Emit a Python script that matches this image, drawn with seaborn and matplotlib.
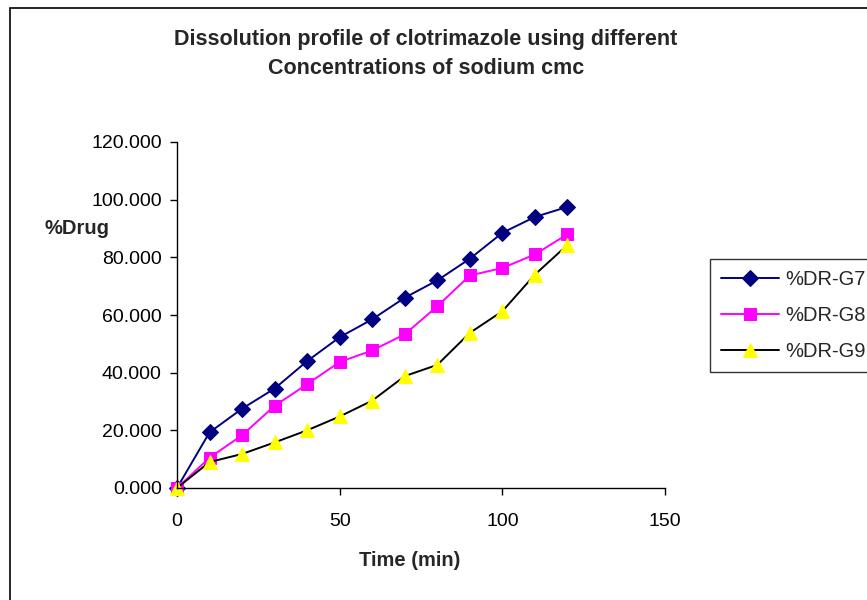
import matplotlib
matplotlib.use("Agg")
import matplotlib.pyplot as plt
import seaborn as sns
import pandas as pd
from matplotlib.patches import Rectangle
from matplotlib.ticker import FormatStrFormatter

time_min = [0, 10, 20, 30, 40, 50, 60, 70, 80, 90, 100, 110, 120]
dr_g7 = [0, 19.3, 27.5, 34.5, 44.0, 52.3, 58.5, 66.0, 72.0, 79.5, 88.5, 94.0, 97.5]
dr_g8 = [0, 10.5, 18.3, 28.5, 36.0, 43.7, 47.7, 53.3, 63.0, 73.7, 76.3, 81.0, 88.0]
dr_g9 = [0, 9.0, 11.8, 15.8, 20.0, 24.8, 30.3, 38.8, 42.7, 53.8, 61.3, 74.0, 84.3]
series_names = ["%DR-G7", "%DR-G8", "%DR-G9"]

sns.set_theme(style="white")
plt.rcParams['font.family'] = ['Liberation Sans', 'DejaVu Sans']

fig = plt.figure(figsize=(8.67, 6.0), dpi=100)
ax = fig.add_axes([177/867, 1-488/600, (665-177)/867, (488-142)/600])

styles = [
    dict(color="#000080", marker="D", mfc="#000080", mec="#000080", ms=8),
    dict(color="#FF00FF", marker="s", mfc="#FF00FF", mec="#FF00FF", ms=8.5),
    dict(color="#000000", marker="^", mfc="#FFFF00", mec="#FFFF00", ms=10),
]
handles = []
for name, vals, st in zip(series_names, [dr_g7, dr_g8, dr_g9], styles):
    df = pd.DataFrame({"t": time_min, "v": vals})
    sns.lineplot(data=df, x="t", y="v", ax=ax, color=st["color"], marker=st["marker"],
                 markerfacecolor=st["mfc"], markeredgecolor=st["mec"], markersize=st["ms"],
                 linewidth=1.4, clip_on=False, label=name, legend=False)
    handles.append(ax.lines[-1])

ax.set_xlim(0, 150)
ax.set_ylim(0, 120)
ax.set_xticks([0, 50, 100, 150])
ax.set_yticks([0, 20, 40, 60, 80, 100, 120])
ax.yaxis.set_major_formatter(FormatStrFormatter('%.3f'))
for s in ["top", "right"]:
    ax.spines[s].set_visible(False)
for s in ["left", "bottom"]:
    ax.spines[s].set_color("black")
    ax.spines[s].set_linewidth(1.0)
ax.tick_params(axis="both", direction="out", length=5, width=1, color="black",
               labelsize=14, labelcolor="black", bottom=True, left=True)
ax.tick_params(axis="y", pad=6)
ax.tick_params(axis="x", pad=13)
ax.set_xlabel("")
ax.set_ylabel("")

fig.text(110/867, 1-229/600, "%Drug", ha="right", va="center", fontsize=14.5, fontweight="bold")
fig.text(410/867, 1-560/600, "Time (min)", ha="center", va="center", fontsize=14.5, fontweight="bold")
fig.text(426/867, 1-39/600, "Dissolution profile of clotrimazole using different",
         ha="center", va="center", fontsize=15.5, fontweight="bold")
fig.text(426/867, 1-68/600, "Concentrations of sodium cmc",
         ha="center", va="center", fontsize=15.5, fontweight="bold")

fig.patches.append(Rectangle((10/867, -0.01), 1.0, 1-8/600+0.01, transform=fig.transFigure,
                             fill=False, edgecolor="black", linewidth=1.2))

leg = fig.legend(handles, series_names, loc="upper left", bbox_to_anchor=(710/867, 1-259/600),
                 frameon=True, fancybox=False, fontsize=14.5, handlelength=2.9,
                 borderpad=0.55, labelspacing=0.85, handletextpad=0.3, borderaxespad=0)
leg.get_frame().set_edgecolor("black")
leg.get_frame().set_linewidth(1.0)

fig.savefig("out.png", dpi=100)
